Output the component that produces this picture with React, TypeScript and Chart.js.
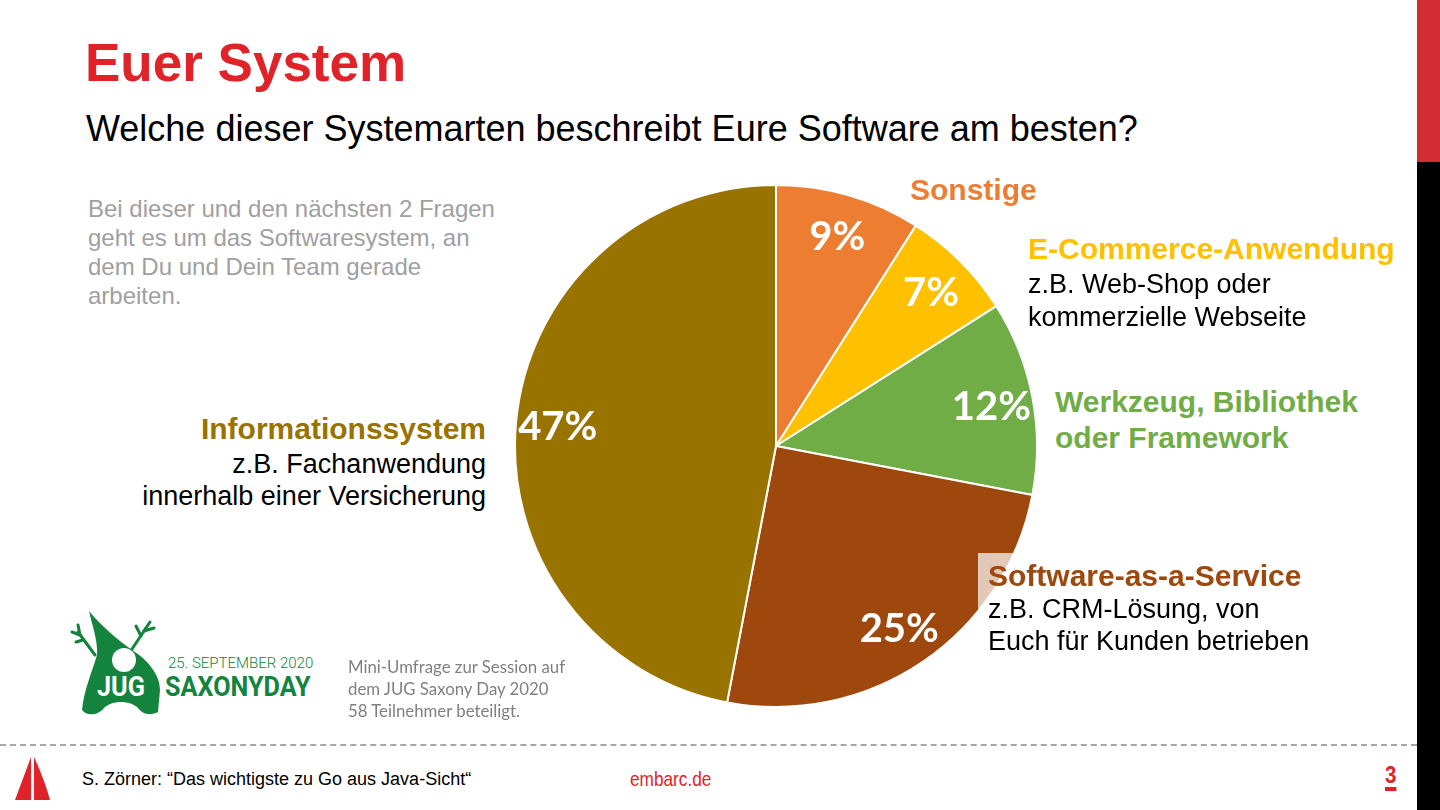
import React, { useEffect, useRef } from "react";
import { Chart, registerables } from "chart.js";

Chart.register(...registerables);

const categories = [
  "Sonstige",
  "E-Commerce-Anwendung",
  "Werkzeug, Bibliothek oder Framework",
  "Software-as-a-Service",
  "Informationssystem",
];
const values = [9, 7, 12, 25, 47];
const colors = ["#ED7D31", "#FFC000", "#70AD47", "#9E480E", "#997300"];

const ARIAL = "'Liberation Sans', Arial, Helvetica, sans-serif";

type TProps = {
  x: number;
  cy: number;
  size: number;
  weight?: number | string;
  color?: string;
  align?: "left" | "right";
  family?: string;
  scaleX?: number;
  children: React.ReactNode;
};

function T({ x, cy, size, weight = 400, color = "#000", align = "left", family = ARIAL, scaleX, children }: TProps) {
  const L = Math.round(size * 1.25);
  const style: React.CSSProperties = {
    position: "absolute",
    top: cy - L / 2,
    fontSize: size,
    lineHeight: L + "px",
    fontWeight: weight as any,
    color,
    fontFamily: family,
    whiteSpace: "nowrap",
  };
  if (align === "right") style.right = 1440 - x;
  else style.left = x;
  if (scaleX) {
    style.transform = `scaleX(${scaleX})`;
    style.transformOrigin = align === "right" ? "right center" : "left center";
  }
  return <div style={style}>{children}</div>;
}

const pctLabelPlugin = {
  id: "pctLabels",
  afterDatasetsDraw(chart: any) {
    const ctx = chart.ctx;
    const meta = chart.getDatasetMeta(0);
    ctx.save();
    ctx.fillStyle = "#ffffff";
    ctx.font = "bold 40px Lato, 'Open Sans', sans-serif";
    ctx.textAlign = "center";
    ctx.textBaseline = "middle";
    meta.data.forEach((arc: any, i: number) => {
      const p = arc.getProps(["x", "y", "startAngle", "endAngle", "outerRadius"], true);
      const a = (p.startAngle + p.endAngle) / 2;
      const r = p.outerRadius * 0.84;
      ctx.fillText(values[i] + "%", p.x + Math.cos(a) * r, p.y + Math.sin(a) * r + 2);
    });
    ctx.restore();
  },
};

function PieChart() {
  const ref = useRef<HTMLCanvasElement>(null);
  useEffect(() => {
    if (!ref.current) return;
    const chart = new Chart(ref.current, {
      type: "pie",
      data: {
        labels: categories,
        datasets: [
          {
            data: values,
            backgroundColor: colors,
            borderColor: "#ffffff",
            borderWidth: 2,
          },
        ],
      },
      options: {
        responsive: false,
        animation: false,
        events: [],
        layout: { padding: 0 },
        plugins: {
          legend: { display: false },
          tooltip: { enabled: false },
          title: { display: false },
        },
      },
      plugins: [pctLabelPlugin],
    });
    return () => chart.destroy();
  }, []);
  return (
    <canvas
      ref={ref}
      width={524}
      height={524}
      style={{ position: "absolute", left: 514, top: 184, width: 524, height: 524 }}
    />
  );
}

function JugLogo() {
  const green = "#13833E";
  return (
    <svg
      style={{ position: "absolute", left: 60, top: 600 }}
      width={110}
      height={125}
      viewBox="60 600 110 125"
    >
      <path
        d="M 89 611 C 100 625, 118 640, 132 650 C 148 660, 160 675, 160 690 L 158 712 C 150 716, 142 714, 138 708 C 130 700, 112 700, 104 708 C 98 716, 86 716, 82 710 C 84 690, 92 672, 97 655 C 98 640, 92 625, 89 611 Z"
        fill={green}
      />
      <g stroke={green} strokeWidth={3} strokeLinecap="round" fill="none">
        <path d="M 95 655 L 78 632" />
        <path d="M 80 635 L 72 632" />
        <path d="M 80 635 L 78 625" />
        <path d="M 83 640 L 76 642" />
        <path d="M 130 652 L 146 628" />
        <path d="M 144 631 L 150 622" />
        <path d="M 144 631 L 154 628" />
        <path d="M 141 636 L 136 626" />
      </g>
      <circle cx={124} cy={660} r={12} fill="#ffffff" />
    </svg>
  );
}

export default function App() {
  return (
    <div
      style={{
        position: "absolute",
        left: 0,
        top: 0,
        width: 1440,
        height: 810,
        background: "#ffffff",
        overflow: "hidden",
        fontFamily: ARIAL,
      }}
    >
      {/* right bars */}
      <div style={{ position: "absolute", left: 1417, top: 0, width: 23, height: 162, background: "#D22D33" }} />
      <div style={{ position: "absolute", left: 1417, top: 162, width: 23, height: 648, background: "#000000" }} />

      <T x={85} cy={63} size={53} weight={700} color="#E02329">Euer System</T>
      <T x={86} cy={128} size={36}>Welche dieser Systemarten beschreibt Eure Software am besten?</T>

      <T x={88} cy={209} size={24} color="#A0A0A0">Bei dieser und den nächsten 2 Fragen</T>
      <T x={88} cy={238} size={24} color="#A0A0A0">geht es um das Softwaresystem, an</T>
      <T x={88} cy={267} size={24} color="#A0A0A0">dem Du und Dein Team gerade</T>
      <T x={88} cy={296} size={24} color="#A0A0A0">arbeiten.</T>

      <PieChart />

      <T x={486} cy={429} size={30} weight={700} color="#997300" align="right">Informationssystem</T>
      <T x={486} cy={464} size={27} align="right">z.B. Fachanwendung</T>
      <T x={486} cy={496} size={27} align="right">innerhalb einer Versicherung</T>

      <T x={910} cy={190} size={30} weight={700} color="#ED7D31">Sonstige</T>

      <T x={1028} cy={249} size={30} weight={700} color="#FFC000">E-Commerce-Anwendung</T>
      <T x={1028} cy={284} size={27}>z.B. Web-Shop oder</T>
      <T x={1028} cy={317} size={27}>kommerzielle Webseite</T>

      <T x={1055} cy={402} size={30} weight={700} color="#70AD47">Werkzeug, Bibliothek</T>
      <T x={1055} cy={438} size={30} weight={700} color="#70AD47">oder Framework</T>

      <div
        style={{
          position: "absolute",
          left: 978,
          top: 553,
          width: 335,
          height: 108,
          background: "rgba(255,255,255,0.7)",
        }}
      />
      <T x={988} cy={576} size={30} weight={700} color="#9E480E">Software-as-a-Service</T>
      <T x={988} cy={609} size={27}>z.B. CRM-Lösung, von</T>
      <T x={988} cy={641} size={27}>Euch für Kunden betrieben</T>

      <JugLogo />
      <T x={97} cy={686} size={28} weight={700} color="#ffffff" family="Roboto, sans-serif" scaleX={0.9}>JUG</T>
      <T x={165} cy={686} size={28} weight={700} color="#13833E" family="Roboto, sans-serif" scaleX={0.9}>SAXONYDAY</T>
      <T x={168} cy={663} size={15} weight={300} color="#13833E" family="Roboto, sans-serif">25. SEPTEMBER 2020</T>

      <T x={348} cy={666} size={16.8} color="#808080" family="Lato, sans-serif">Mini-Umfrage zur Session auf</T>
      <T x={348} cy={688} size={16.8} color="#808080" family="Lato, sans-serif">dem JUG Saxony Day 2020</T>
      <T x={348} cy={710} size={16.8} color="#808080" family="Lato, sans-serif">58 Teilnehmer beteiligt.</T>

      {/* dashed separator */}
      <div
        style={{
          position: "absolute",
          left: 0,
          top: 744,
          width: 1417,
          height: 0,
          borderTop: "2px dashed #A6A6A6",
        }}
      />

      {/* footer sail */}
      <svg style={{ position: "absolute", left: 10, top: 752 }} width={45} height={52} viewBox="10 752 45 52">
        <path d="M 15 800 L 31 757 L 31 800 Z" fill="#E02329" />
        <path d="M 34 757 C 40 770, 46 785, 50 800 L 34 800 Z" fill="#E02329" />
      </svg>
      <T x={82} cy={779} size={18}>S. Zörner: “Das wichtigste zu Go aus Java-Sicht“</T>
      <T x={630} cy={779} size={21} color="#E02329" scaleX={0.82}>embarc.de</T>
      <div
        style={{
          position: "absolute",
          left: 1385,
          top: 760,
          fontSize: 24,
          lineHeight: "30px",
          fontWeight: 700,
          color: "#E02329",
          fontFamily: ARIAL,
          textDecoration: "underline",
          textDecorationThickness: 4,
          textUnderlineOffset: 4,
          transform: "scaleX(0.85)",
          transformOrigin: "left center",
        }}
      >
        3
      </div>
    </div>
  );
}
